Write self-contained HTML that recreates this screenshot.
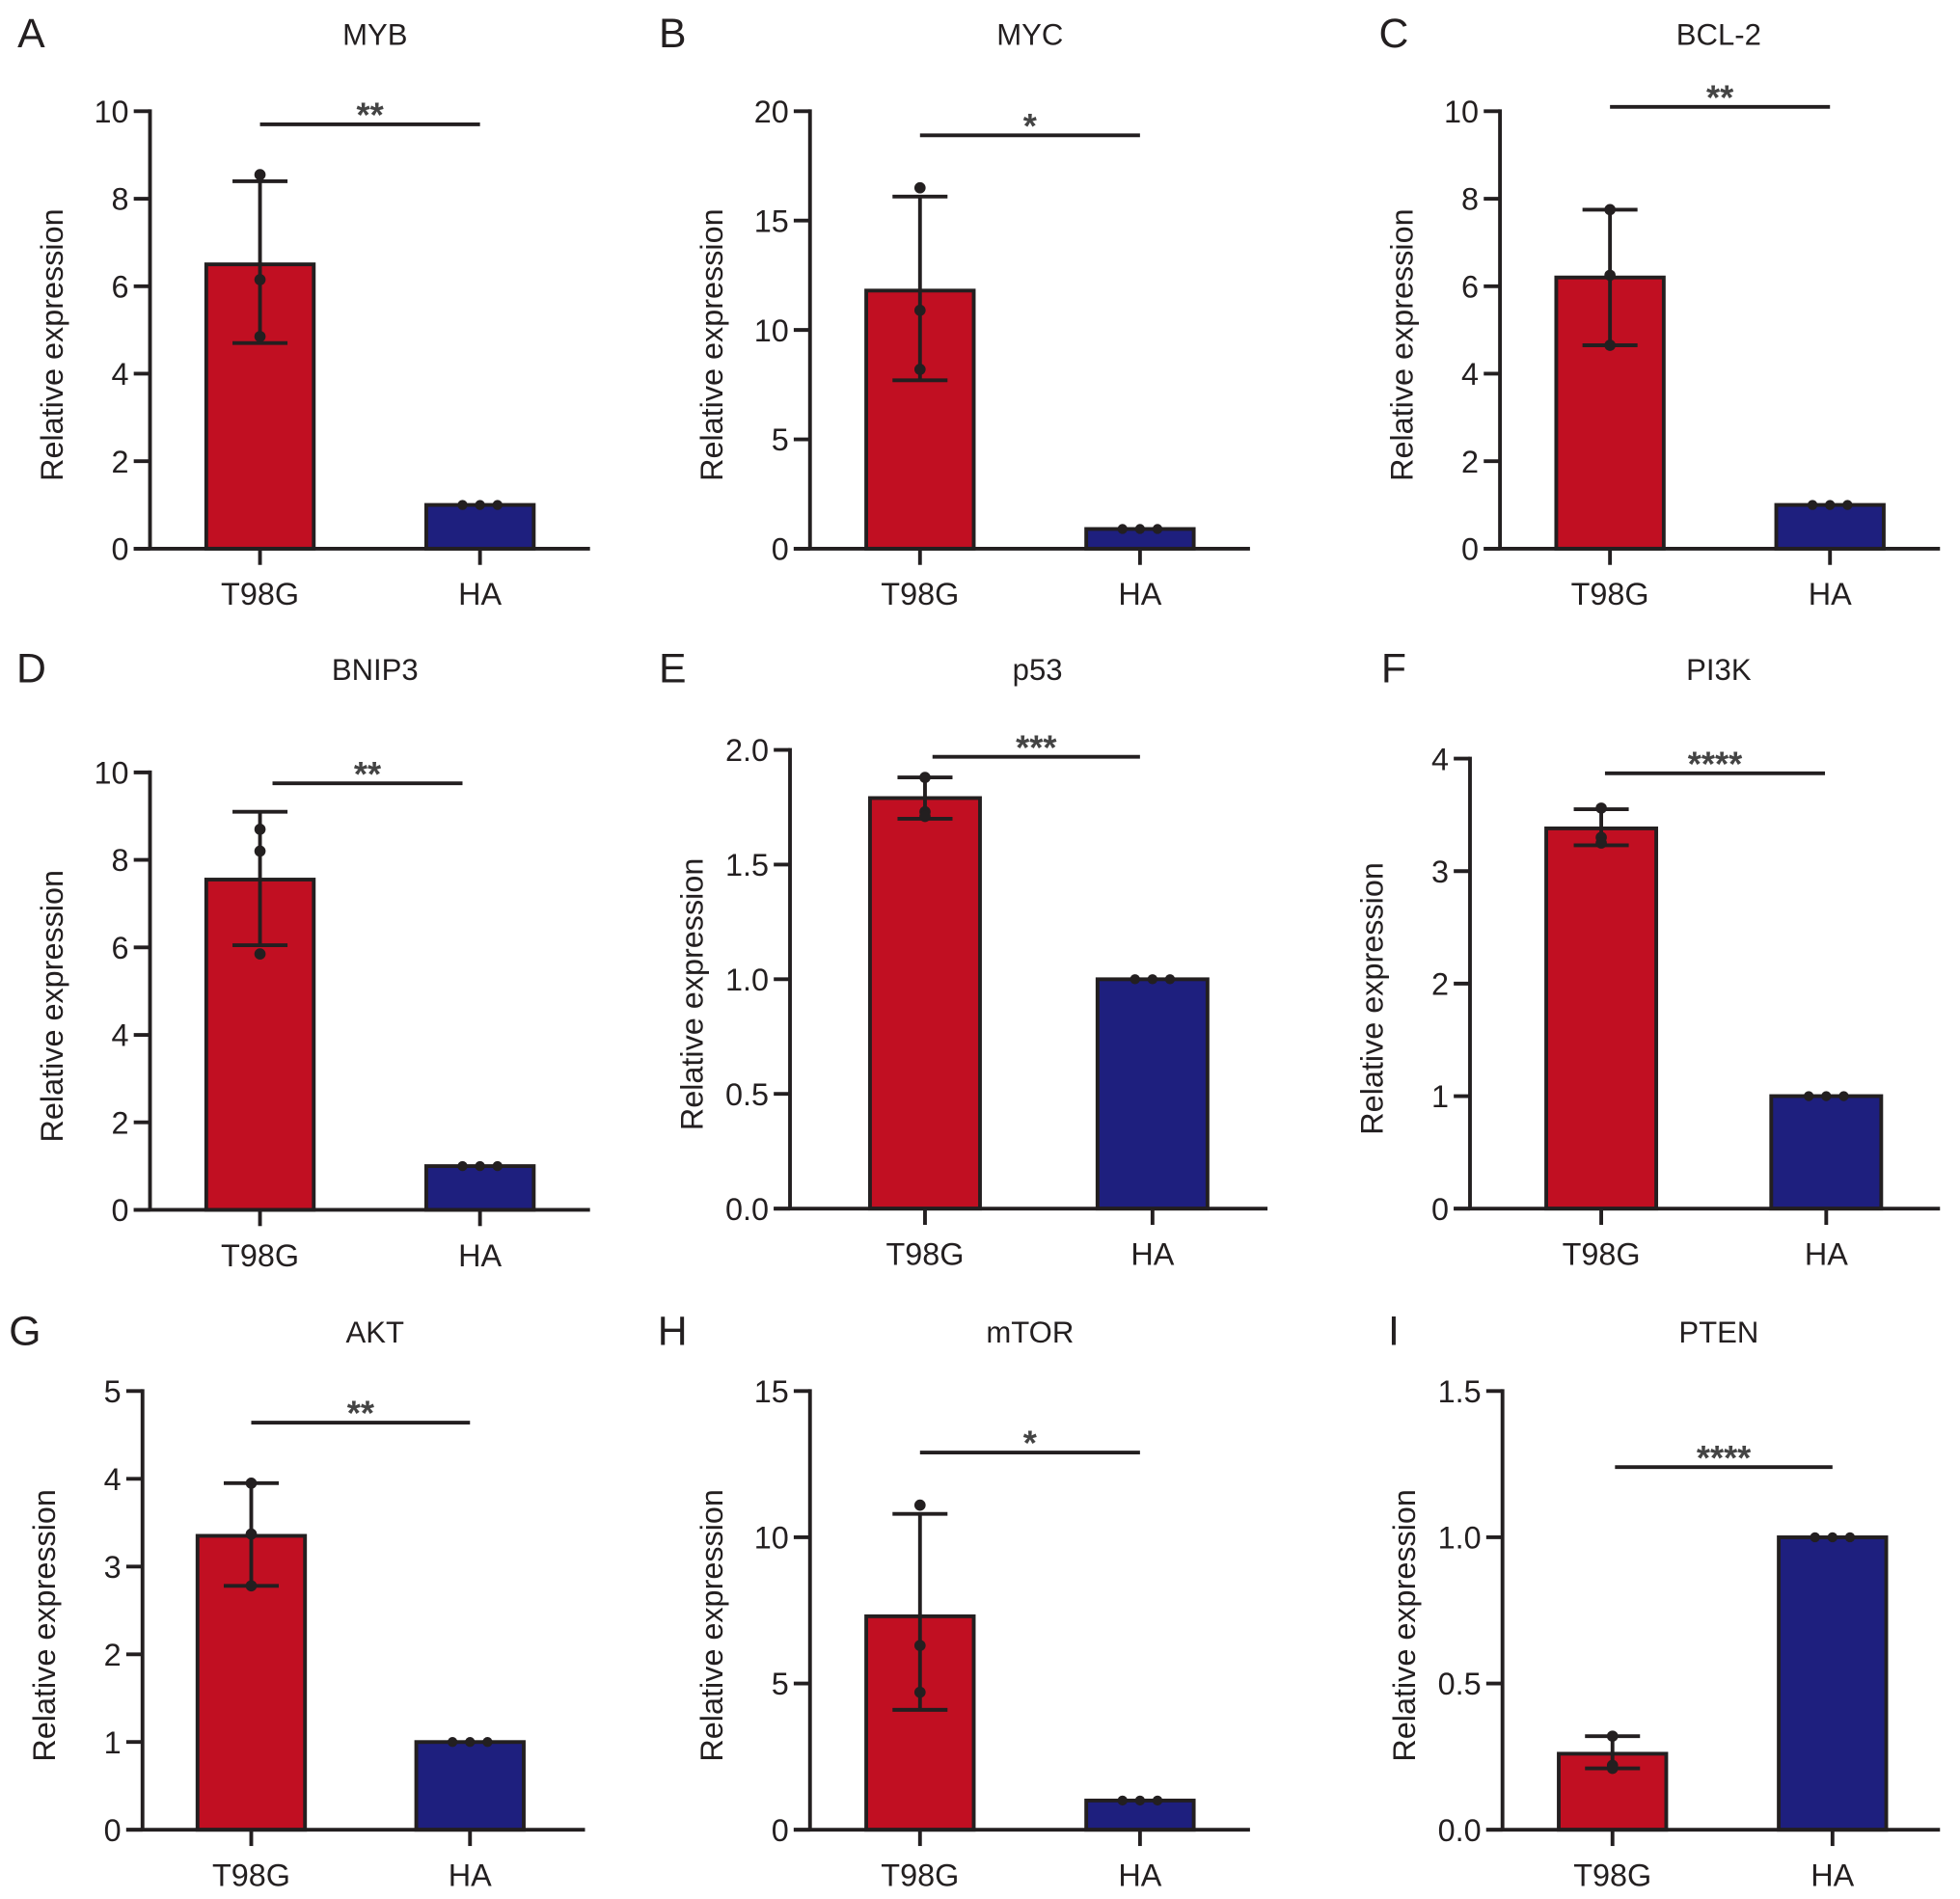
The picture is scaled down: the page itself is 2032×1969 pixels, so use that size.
<!DOCTYPE html>
<html><head><meta charset="utf-8"><style>
html,body{margin:0;padding:0;background:#fff;}
svg{display:block;font-family:"Liberation Sans",Arial,sans-serif;}
</style></head><body>
<svg id="fig" width="2032" height="1969" viewBox="0 0 1568 1519.4" xmlns="http://www.w3.org/2000/svg"></svg>
<script>
const panelLetters = ["A","B","C","D","E","F","G","H","I"];
const genes = ["MYB","MYC","BCL-2","BNIP3","p53","PI3K","AKT","mTOR","PTEN"];
const categories = ["T98G","HA"];
const t98gMeans = [6.5, 11.8, 6.2, 7.55, 1.79, 3.38, 3.35, 7.3, 0.26];
const t98gErrLow = [4.7, 7.7, 4.65, 6.05, 1.70, 3.23, 2.78, 4.1, 0.21];
const t98gErrHigh = [8.4, 16.1, 7.75, 9.1, 1.88, 3.55, 3.95, 10.8, 0.32];
const t98gPoints = [[8.55,6.15,4.85],[16.5,10.9,8.2],[7.75,6.25,4.65],[8.7,8.2,5.85],[1.88,1.73,1.71],[3.56,3.3,3.25],[3.95,3.37,2.78],[11.1,6.3,4.7],[0.32,0.22,0.21]];
const haMeans = [1, 0.9, 1, 1, 1, 1, 1, 1, 1.0];
const haPoints = [[1,1,1],[0.9,0.9,0.9],[1,1,1],[1,1,1],[1,1,1],[1,1,1],[1,1,1],[1,1,1],[1,1,1]];
const yMax = [10, 20, 10, 10, 2.0, 4, 5, 15, 1.5];
const yStep = [2, 5, 2, 2, 0.5, 1, 1, 5, 0.5];
const tickDecimals = [0,0,0,0,1,0,0,0,1];
const sigLabels = ["**","*","**","**","***","****","**","*","****"];
const sigValues = [9.7, 18.9, 10.1, 9.75, 1.97, 3.87, 4.64, 12.9, 1.24];

const L = [
 {ax:120,y0:439,top:89,c1:208,c2:384,end:472,bw:86,sx1:208,sx2:384,tx:300,lx:25},
 {ax:648,y0:439,top:89,c1:736,c2:912,end:1000,bw:86,sx1:736,sx2:912,tx:824,lx:538},
 {ax:1200,y0:439,top:89,c1:1288,c2:1464,end:1552,bw:86,sx1:1288,sx2:1464,tx:1375,lx:1115},
 {ax:120,y0:968,top:618,c1:208,c2:384,end:472,bw:86,sx1:218,sx2:370,tx:300,lx:25},
 {ax:632,y0:967,top:600,c1:740,c2:922,end:1014,bw:88,sx1:746,sx2:912,tx:830,lx:538},
 {ax:1176,y0:967,top:607,c1:1281,c2:1461,end:1552,bw:88,sx1:1284,sx2:1460,tx:1375,lx:1115},
 {ax:114,y0:1464,top:1113,c1:201,c2:376,end:468,bw:86,sx1:201,sx2:376,tx:300,lx:20},
 {ax:648,y0:1464,top:1113,c1:736,c2:912,end:1000,bw:86,sx1:736,sx2:912,tx:824,lx:538},
 {ax:1202,y0:1464,top:1113,c1:1290,c2:1466,end:1552,bw:86,sx1:1292,sx2:1466,tx:1375,lx:1115}
];
const titleY = [27,27,27,535,535,535,1065,1065,1065];
const NS="http://www.w3.org/2000/svg";
const svg=document.getElementById('fig');
const ink="#231f20";
function mk(tag,attrs,parent,text){const e=document.createElementNS(NS,tag);for(const k in attrs)e.setAttribute(k,attrs[k]);if(text!==undefined)e.textContent=text;parent.appendChild(e);return e;}

for(let i=0;i<9;i++){
  const g=mk('g',{},svg);
  
  
  const p=L[i];
  const y=v=>p.y0-(v/yMax[i])*(p.y0-p.top);
  const lt=mk('text',{x:p.lx,y:titleY[i]+11,'font-size':33,fill:ink,'text-anchor':'middle'},g,panelLetters[i]);
  
  
  const tt=mk('text',{x:p.tx,y:titleY[i]+9,'font-size':24,fill:ink,'text-anchor':'middle'},g,genes[i]);
  
  
  const b1=mk('rect',{x:p.c1-p.bw/2,y:y(t98gMeans[i]),width:p.bw,height:p.y0-y(t98gMeans[i]),fill:"#c10f22",stroke:ink,'stroke-width':3},g);
  
  
  const b2=mk('rect',{x:p.c2-p.bw/2,y:y(haMeans[i]),width:p.bw,height:p.y0-y(haMeans[i]),fill:"#1e1f7e",stroke:ink,'stroke-width':3},g);
  
  
  const eb=mk('g',{stroke:ink,'stroke-width':3},g);
  
  
  mk('line',{x1:p.c1,x2:p.c1,y1:y(t98gErrLow[i]),y2:y(t98gErrHigh[i])},eb);
  mk('line',{x1:p.c1-22,x2:p.c1+22,y1:y(t98gErrLow[i]),y2:y(t98gErrLow[i])},eb);
  mk('line',{x1:p.c1-22,x2:p.c1+22,y1:y(t98gErrHigh[i]),y2:y(t98gErrHigh[i])},eb);
  t98gPoints[i].forEach(v=>{const c=mk('circle',{cx:p.c1,cy:y(v),r:4.5,fill:ink},g);
    
    });
  haPoints[i].forEach((v,k)=>{const c=mk('circle',{cx:p.c2-14+k*14,cy:y(v),r:4,fill:ink},g);
    
    });
  const ya=mk('line',{x1:p.ax,x2:p.ax,y1:p.top-1.5,y2:p.y0,stroke:ink,'stroke-width':3},g);
  
  
  const xa=mk('line',{x1:p.ax-13,x2:p.end,y1:p.y0,y2:p.y0,stroke:ink,'stroke-width':3},g);
  
  
  for(let v=0;v<=yMax[i]+1e-9;v+=yStep[i]){
    mk('line',{x1:p.ax-13,x2:p.ax,y1:y(v),y2:y(v),stroke:ink,'stroke-width':3},g);
    const tl=mk('text',{x:p.ax-17,y:y(v)+9,'font-size':25,fill:ink,'text-anchor':'end'},g,v.toFixed(tickDecimals[i]));
    
    
  }
  [p.c1,p.c2].forEach((cx,k)=>{
    mk('line',{x1:cx,x2:cx,y1:p.y0,y2:p.y0+13,stroke:ink,'stroke-width':3},g);
    const cl=mk('text',{x:cx,y:p.y0+45,'font-size':25,fill:ink,'text-anchor':'middle'},g,categories[k]);
    
    
  });
  const yl=mk('text',{x:0,y:0,'font-size':25,fill:ink,'text-anchor':'middle',transform:`translate(${p.ax-70},${(p.y0+p.top)/2+12}) rotate(-90)`},g,"Relative expression");
  
  
  const sy=y(sigValues[i]);
  const sl=mk('line',{x1:p.sx1,x2:p.sx2,y1:sy,y2:sy,stroke:ink,'stroke-width':3},g);
  
  
  const st=mk('text',{x:(p.sx1+p.sx2)/2,y:sy+2,'font-size':28,'font-weight':'bold',fill:"#444",'text-anchor':'middle'},g,sigLabels[i]);
  
  
}
</script>
</body></html>
